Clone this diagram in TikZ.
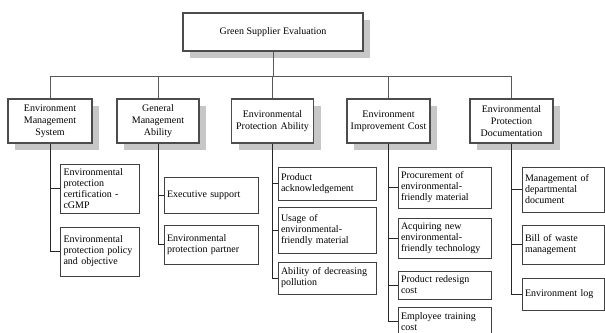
\documentclass[tikz,border=0pt]{standalone}
\usepackage{fontspec}
\setmainfont{Liberation Serif}
\usetikzlibrary{shadows}
\begin{document}
\begin{tikzpicture}[x=1pt,y=-1pt,
  shadowed/.style={draw=black!70, line width=1.3pt, fill=white, align=center,
    font=\fontsize{10}{12}\selectfont, inner sep=2pt,
    drop shadow={shadow xshift=7pt, shadow yshift=-7pt, fill=black!22, opacity=1}},
  leaf/.style={draw=black!75, line width=0.7pt, fill=white, align=left,
    font=\fontsize{10}{11}\selectfont, inner xsep=3pt, inner ysep=1pt},
  bus/.style={draw=black!65, line width=0.7pt},
  spine/.style={draw=black!85, line width=0.9pt}]
\useasboundingbox (0,0) rectangle (605,332);
\begin{scope}
\clip (0,0) rectangle (605,332);
% top
\node[shadowed, minimum width=180, minimum height=38] (top) at (273,32) {Green Supplier Evaluation};
% level 1
\node[shadowed, minimum width=84, minimum height=44, text width=80] (a) at (50,121) {Environment\\Management\\System};
\node[shadowed, minimum width=82, minimum height=44, text width=78] (b) at (158,121) {General\\Management\\Ability};
\node[shadowed, minimum width=82, minimum height=44, text width=78] (c) at (272.5,121) {Environmental\\Protection Ability};
\node[shadowed, minimum width=83, minimum height=44, text width=79] (d) at (388.5,121) {Environment\\Improvement Cost};
\node[shadowed, minimum width=83, minimum height=44, text width=79] (e) at (511.5,121) {Environmental\\Protection\\Documentation};
\coordinate (busy) at (0,76);
\foreach \n in {a,b,c,d,e}
  \draw[bus] (top.south) -- (top.south |- busy) -| (\n.north);
% column 1
\node[leaf, text width=73, minimum height=49] (a1) at (100,188.5) {Environmental\\protection\\certification -\\cGMP};
\node[leaf, text width=73, minimum height=49] (a2) at (100,251.5) {Environmental\\protection policy\\and objective};
% column 2
\node[leaf, text width=88, minimum height=36] (b1) at (211,195) {Executive support};
\node[leaf, text width=88, minimum height=39] (b2) at (211,244.5) {Environmental\\protection partner};
% column 3
\node[leaf, text width=92, minimum height=33] (c1) at (327,183.5) {Product\\acknowledgement};
\node[leaf, text width=92, minimum height=46] (c2) at (327,230) {Usage of\\environmental-\\friendly material};
\node[leaf, text width=92, minimum height=32] (c3) at (327,278) {Ability of decreasing\\pollution};
% column 4
\node[leaf, text width=87, minimum height=41] (d1) at (444.5,187.5) {Procurement of\\environmental-\\friendly material};
\node[leaf, text width=87, minimum height=40] (d2) at (444.5,238) {Acquiring new\\environmental-\\friendly technology};
\node[leaf, text width=87, minimum height=28] (d3) at (444.5,285) {Product redesign\\cost};
\node[leaf, text width=87, minimum height=28] (d4) at (444.5,321.5) {Employee training\\cost};
% column 5
\node[leaf, text width=76, minimum height=45] (e1) at (563,189.5) {Management of\\departmental\\document};
\node[leaf, text width=76, minimum height=39] (e2) at (563,244.5) {Bill of waste\\management};
\node[leaf, text width=76, minimum height=32] (e3) at (563,294) {Environment log};
% spines
\foreach \p/\c in {a/a1,a/a2,b/b1,b/b2,c/c1,c/c2,c/c3,d/d1,d/d2,d/d3,d/d4,e/e1,e/e2,e/e3}
  \draw[spine] (\p.south) |- (\c.west);
\end{scope}
\end{tikzpicture}
\end{document}
